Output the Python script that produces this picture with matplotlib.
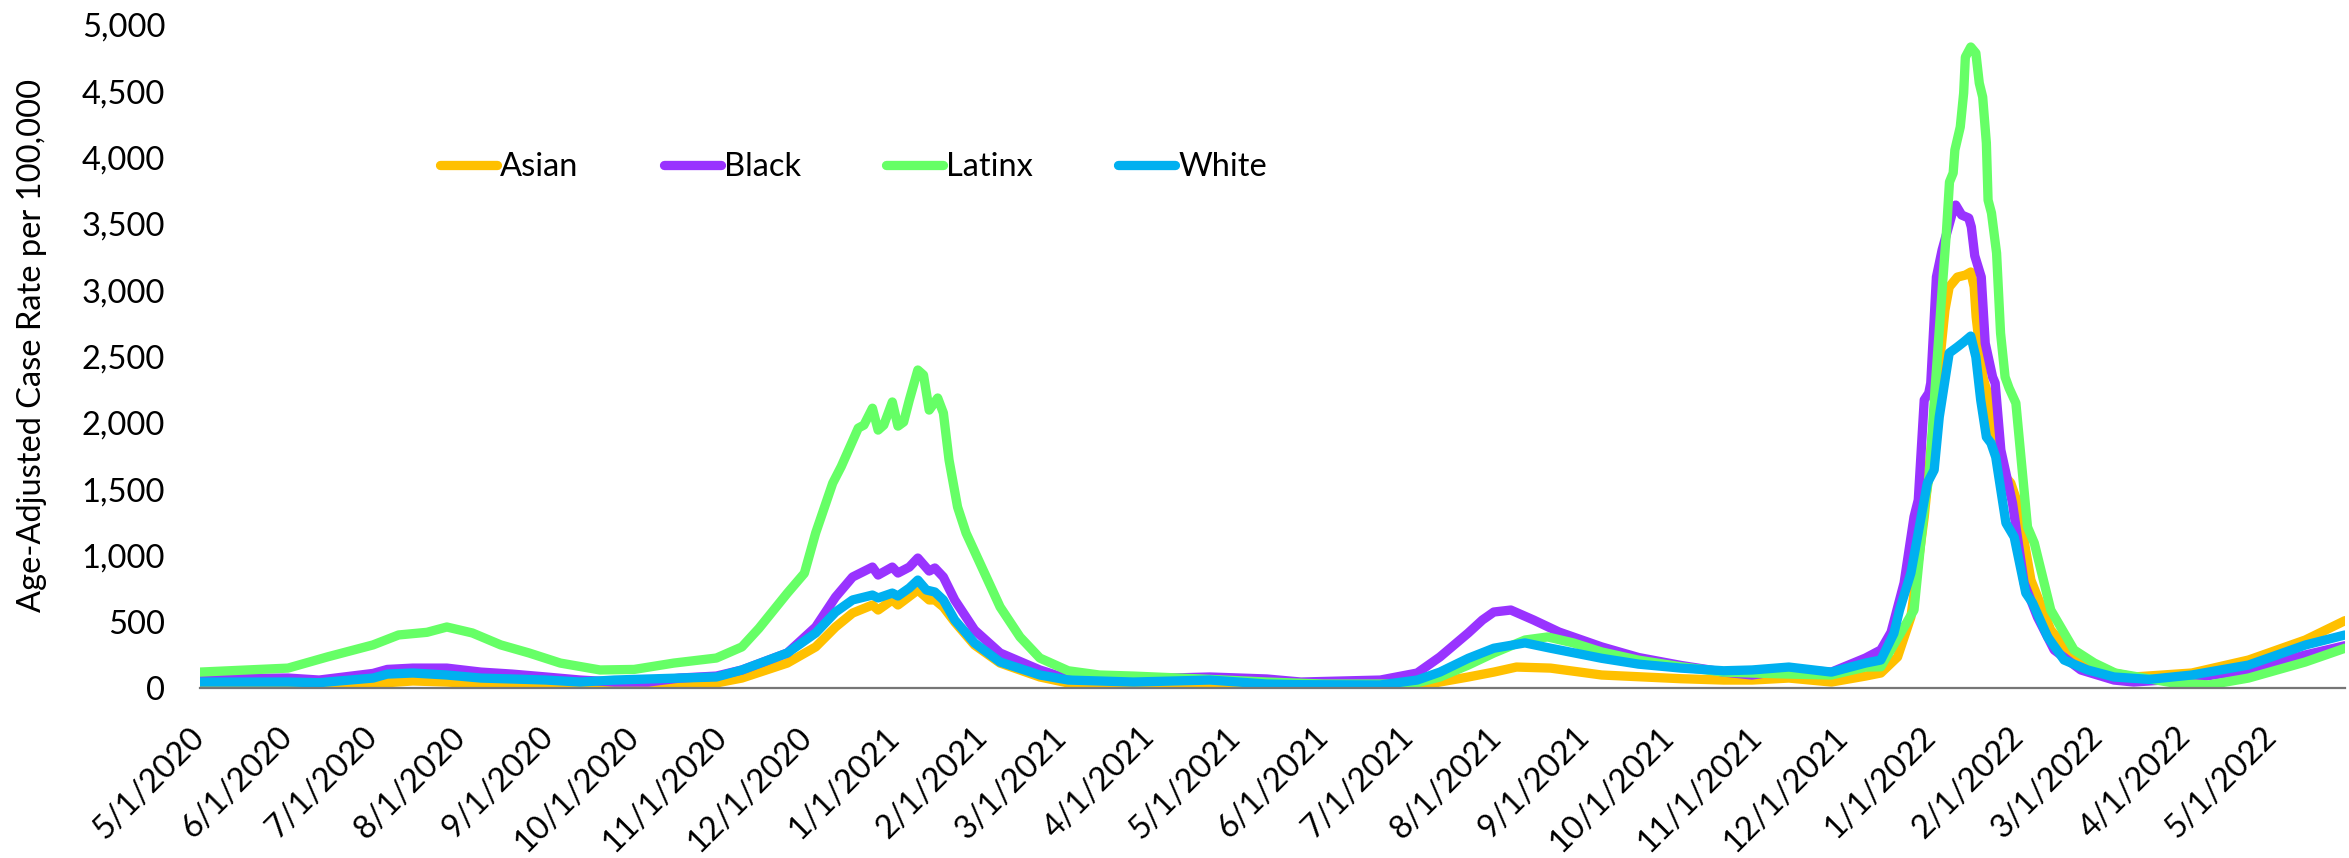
import matplotlib
matplotlib.use("Agg")
import matplotlib.pyplot as plt
import matplotlib.dates as mdates
from matplotlib.ticker import FuncFormatter, MultipleLocator
import pandas as pd

plt.rcParams["font.family"] = ["Lato", "DejaVu Sans"]

# day offsets are counted from START
START = pd.Timestamp("2020-05-01")
END_DAY = 756

asian_day = [0, 31, 61, 66, 75, 87, 99, 122, 146, 169, 182, 191, 207, 217, 224, 230, 237, 239, 244, 246,
             253, 257, 259, 262, 266, 273, 282, 296, 306, 329, 356, 388, 416, 429, 437, 447, 456, 464, 476, 494,
             507, 522, 537, 547, 560, 575, 587, 592.4, 598.3, 603, 607.7, 612.4, 615, 616.5, 619.4, 622.2, 624.1,
             625.3, 626, 628.4, 630, 632.4, 636, 638.2, 640.6, 645.3, 652.3, 659.4, 668, 674.6, 681.5, 702, 722,
             742, 756]
asian_val = [18, 15, 23, 40, 53, 45, 30, 15, 8, 23, 38, 75, 188, 310, 460, 565, 626, 588, 664, 626,
             739, 664, 664, 611, 498, 324, 188, 83, 38, 25, 20, 15, 12, 15, 45, 83, 120, 158, 150, 98,
             85, 70, 60, 60, 75, 45, 90, 113, 234, 535, 1290, 2300, 2850, 3024, 3099, 3114, 3137,
             3024, 2798, 2345, 2224, 1893, 1600, 1546, 1395, 814, 437, 264, 173, 113, 83, 113, 211,
             362, 508]

black_day = [0, 31, 42, 61, 66, 75, 87, 99, 110, 122, 134, 146, 158, 169, 182, 191, 207, 217, 224, 230,
             237, 239, 244, 246, 250, 253, 257, 259, 262, 266, 273, 282, 296, 306, 329, 356, 376, 388, 416, 429,
             437, 447, 452, 456, 462, 470, 479, 494, 507, 522, 537, 547, 560, 575,
             587, 592.4, 596, 600.6, 604.1, 605.6, 607.7, 609.3, 610, 612, 614, 617.9, 618.8, 620.9, 623.4,
             624.3, 625.5, 627.8, 629.2, 631.8, 632.7, 634.7, 638.8, 642.9, 647.6, 653.5, 662.9, 674.6, 681.5,
             702, 722, 742, 756]
black_val = [70, 75, 60, 110, 140, 150, 150, 120, 105, 83, 60, 45, 45, 75, 90, 136, 264, 460, 686, 837,
             912, 852, 912, 867, 912, 980, 882, 905, 837, 664, 437, 264, 136, 68, 68, 83, 68, 45, 60, 113,
             234, 415, 513, 573, 588, 513, 422, 310, 230, 170, 120, 98, 140, 120,
             226, 287, 420, 792, 1290, 1418, 2172, 2224, 2300, 3100, 3303, 3605, 3642, 3567, 3544,
             3477, 3260, 3099, 2600, 2345, 2300, 1795, 1395, 792, 535, 287, 136, 60, 45,
             75, 136, 249, 319]

latinx_day = [0, 31, 45, 61, 70, 80, 87, 96, 106, 116, 127, 141, 153, 167, 182, 191, 197, 207, 213, 217,
              223, 226, 232, 234, 237, 239, 241, 244, 246, 248, 250, 253, 255, 257, 260, 262, 264, 267, 270, 276,
              282, 289, 296, 306, 317, 329, 353, 376, 396, 420, 429, 437, 447, 456, 467, 475, 484, 494, 507, 522,
              537, 547, 560, 575,
              587, 592.4, 599.4, 604.1, 608, 609.5, 611.5, 614, 615.5, 616.6, 617.9, 618.5, 620.4, 621.6, 622.2,
              624.1, 625.9, 627.1, 628.3, 629.6, 630.2, 631.4, 633.2, 634.6, 636.2, 637.6, 640, 644.1, 646.5,
              652.3, 660.5, 667.6, 675, 684, 695, 708, 722, 742, 756]
latinx_val = [120, 150, 235, 325, 400, 420, 460, 415, 325, 264, 188, 136, 140, 188, 226, 310, 450, 715, 865, 1170,
              1545, 1670, 1960, 1983, 2110, 1945, 1983, 2157, 1975, 2006, 2172, 2398, 2360, 2096, 2187, 2074, 1719,
              1365, 1169, 890, 611, 385, 226, 130, 98, 90, 68, 45, 30, 30, 40, 83, 173, 264, 362, 385, 340, 272,
              210, 160, 120, 113, 105, 98,
              158, 160, 415, 588, 1418, 1600, 2250, 3000, 3431, 3816, 3884, 4057, 4231, 4487, 4758,
              4834, 4788, 4562, 4457, 4110, 3680, 3582, 3280, 2677, 2345, 2262, 2149, 1214, 1093,
              588, 287, 189, 113, 80, 40, 23, 75, 196, 300]

white_day = [0, 31, 42, 61, 66, 75, 87, 99, 110, 122, 134, 146, 158, 169, 182, 191, 207, 217, 224, 230,
             237, 239, 244, 246, 250, 253, 256, 259, 262, 266, 273, 282, 296, 306, 329, 356, 376, 388, 416, 429,
             437, 447, 456, 467, 476, 494, 507, 522, 537, 547, 560, 575,
             587, 592.4, 595, 597, 599, 603, 608.8, 611.2, 613, 616.5, 619.4, 621.6, 624.1, 625.9, 627.6,
             629.6, 631.2, 632.9, 636.5, 639.4, 643.5, 645.9, 651.2, 657, 665.3, 674.6, 687, 702, 722, 742, 756]
white_val = [45, 45, 40, 75, 105, 113, 98, 75, 68, 60, 45, 60, 68, 75, 83, 136, 264, 415, 573, 664,
             701, 679, 716, 694, 754, 814, 739, 724, 664, 513, 339, 196, 98, 60, 45, 60, 30, 25, 23, 60,
             120, 224, 300, 340, 300, 224, 180, 150, 130, 136, 158, 120,
             188, 211, 324, 412, 588, 867, 1546, 1644, 2044, 2526, 2572, 2609, 2654, 2496, 2172,
             1893, 1848, 1742, 1244, 1139, 716, 641, 385, 211, 136, 83, 65, 98, 173, 324, 400]

series = [
    ("Asian", asian_day, asian_val, "#FFC000"),
    ("Black", black_day, black_val, "#9933FF"),
    ("Latinx", latinx_day, latinx_val, "#66FF66"),
    ("White", white_day, white_val, "#00B0F0"),
]

fig = plt.figure(figsize=(23.49, 8.58), dpi=100)
ax = fig.add_axes([200 / 2349, 1 - 688 / 858, 2145 / 2349, 663 / 858])

for name, days, vals, color in series:
    dates = START + pd.to_timedelta(days, unit="D")
    ax.plot(dates, vals, color=color, lw=6.7, label=name,
            solid_capstyle="round", solid_joinstyle="round")

ax.set_xlim(START, START + pd.Timedelta(days=END_DAY))
ax.set_ylim(0, 5000)
ax.yaxis.set_major_locator(MultipleLocator(500))
ax.yaxis.set_major_formatter(FuncFormatter(lambda v, p: f"{int(v):,}"))


def fmt_date(v, p):
    d = mdates.num2date(v)
    return f"{d.month}/{d.day}/{d.year}"


ax.xaxis.set_major_locator(mdates.MonthLocator())
ax.xaxis.set_major_formatter(FuncFormatter(fmt_date))
ax.tick_params(axis="both", length=0, labelsize=23.5)
ax.tick_params(axis="y", pad=25)
ax.tick_params(axis="x", pad=32, labelrotation=45)
plt.setp(ax.get_xticklabels(), ha="right", va="center", rotation_mode="anchor")

for side in ["left", "top", "right"]:
    ax.spines[side].set_visible(False)
ax.spines["bottom"].set_color("#767676")
ax.spines["bottom"].set_linewidth(1.6)

fig.text(32 / 2349, 1 - 345 / 858, "Age-Adjusted Case Rate per 100,000",
         rotation=90, ha="center", va="center", fontsize=23.5)

ax.legend(loc="center left", bbox_to_anchor=(440 / 2349, 1 - 167 / 858),
          bbox_transform=fig.transFigure, ncol=4, frameon=False, fontsize=23.5,
          handlelength=1.75, handletextpad=0.1, columnspacing=2.6,
          borderpad=0, borderaxespad=0)

fig.savefig("out.png", dpi=100)
